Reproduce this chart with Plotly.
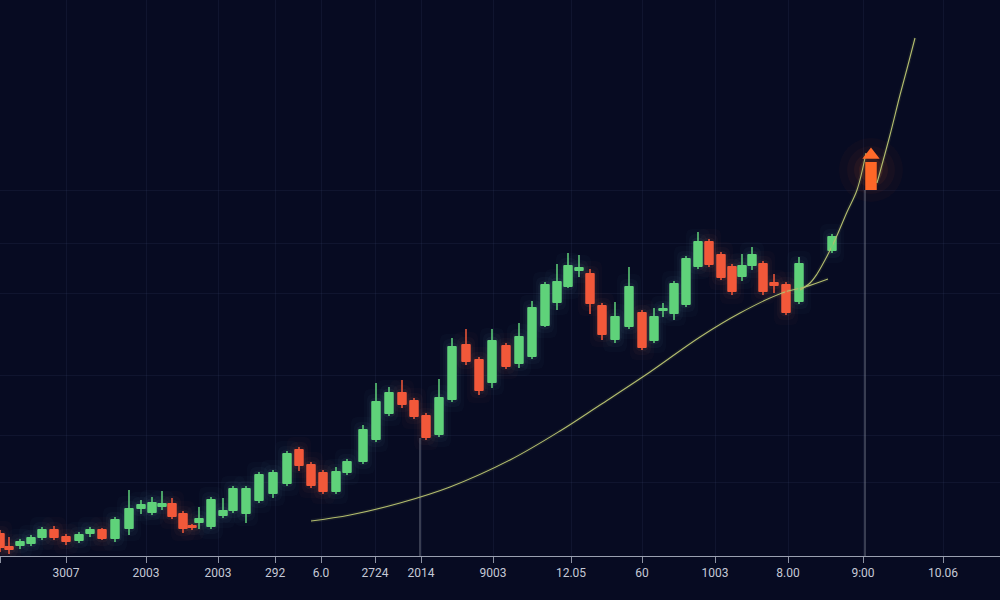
import plotly.graph_objects as go

# ---------------- data ----------------
candle_x = [0.0, 0.9, 2.0, 3.1, 4.2, 5.4, 6.6, 7.9, 9.0, 10.2, 11.5, 12.9, 14.1, 15.2, 16.2,
            17.2, 18.3, 19.2, 19.9, 21.1, 22.3, 23.3, 24.6, 25.9, 27.3, 28.7, 29.9, 31.1, 32.3,
            33.6, 34.7, 36.3, 37.6, 38.9, 40.2, 41.4, 42.6, 43.9, 45.2, 46.6, 47.9, 49.2, 50.6,
            51.9, 53.2, 54.5, 55.7, 56.8, 57.9, 59.0, 60.2, 61.5, 62.9, 64.2, 65.4, 66.3, 67.4,
            68.6, 69.8, 70.9, 72.1, 73.2, 74.2, 75.2, 76.3, 77.4, 78.6, 79.9, 83.2]
open_ = [2.3, 1.0, 1.0, 1.2, 1.8, 2.7, 2.0, 1.5, 2.2, 2.7, 1.7, 2.7, 4.7, 4.3, 4.9,
         5.3, 4.3, 3.0, 3.3, 2.9, 4.0, 4.5, 4.2, 5.5, 6.2, 7.2, 10.7, 9.2, 8.4,
         6.4, 8.3, 9.4, 11.6, 14.2, 16.4, 15.6, 14.1, 12.1, 15.6, 21.2, 19.7, 17.3, 21.1,
         19.2, 19.9, 23.0, 25.3, 26.9, 28.5, 28.3, 25.1, 21.6, 22.9, 24.4, 21.5, 24.5, 24.2,
         25.1, 28.9, 31.5, 30.2, 29.0, 27.9, 29.0, 29.3, 27.4, 27.2, 25.4, 30.5]
high = [2.6, 1.9, 1.7, 2.1, 2.9, 3.0, 2.2, 2.4, 2.9, 2.8, 3.9, 6.6, 5.6, 5.9, 6.5,
        5.8, 4.5, 3.2, 4.9, 5.9, 5.8, 7.0, 7.0, 8.4, 8.6, 10.5, 10.9, 9.4, 8.6,
        8.9, 9.7, 13.1, 17.3, 16.9, 17.6, 15.8, 14.3, 17.7, 21.8, 22.7, 19.9, 22.7, 21.3,
        23.3, 25.5, 27.4, 29.2, 30.3, 30.1, 28.7, 25.3, 25.4, 28.9, 24.6, 24.8, 25.3, 27.5,
        30.0, 32.4, 31.7, 30.4, 29.2, 30.2, 30.9, 29.5, 28.2, 27.4, 29.9, 32.2]
low = [0.4, 0.2, 0.7, 1.0, 1.6, 1.6, 1.1, 1.3, 1.9, 1.6, 1.4, 2.1, 4.2, 4.1, 4.6,
       3.7, 2.3, 2.6, 2.7, 2.7, 3.8, 4.3, 3.3, 5.3, 5.8, 7.0, 8.5, 6.8, 6.2,
       6.2, 8.1, 9.2, 11.4, 14.0, 14.8, 13.7, 11.6, 11.9, 15.4, 19.1, 16.1, 16.8, 18.7,
       18.8, 19.7, 22.9, 24.6, 26.8, 27.9, 24.2, 21.6, 21.3, 22.7, 20.6, 21.3, 23.9, 23.6,
       24.9, 28.7, 28.9, 27.6, 26.1, 27.5, 28.6, 26.1, 26.3, 24.1, 25.2, 30.3]
close = [0.8, 0.6, 1.5, 1.9, 2.7, 1.8, 1.4, 2.2, 2.7, 1.7, 3.7, 4.8, 5.2, 5.4, 5.3,
         3.9, 2.7, 2.8, 3.8, 5.7, 4.6, 6.8, 6.8, 8.2, 8.4, 10.3, 9.0, 7.0, 6.4,
         8.5, 9.5, 12.7, 15.5, 16.4, 15.1, 13.9, 11.8, 15.9, 21.0, 19.4, 16.5, 21.6, 18.9,
         22.0, 24.9, 27.2, 27.5, 29.1, 28.9, 25.2, 22.1, 24.0, 27.0, 20.8, 24.0, 24.8, 27.3,
         29.8, 31.5, 29.1, 27.8, 26.4, 29.1, 30.2, 26.4, 27.0, 24.3, 29.3, 32.0]

# breakout candle (drawn as an arrow)
arrow_x = [87.1]
arrow_open = [36.6]
arrow_close = [39.4]
arrow_tip = [40.1]

# trend line (three segments)
trend_x = [31.1, 35.0, 40.0, 45.0, 51.0, 56.0, 60.0, 65.0, 70.0, 74.0, 78.2, 80.5, 82.8, None,
           80.0, 81.0, 81.7, 82.5, 83.5, 84.7, 85.7, 86.6, None,
           87.7, 89.0, 90.0, 90.8, 91.5]
trend_y = [3.5, 4.1, 5.3, 6.9, 9.6, 12.5, 15.1, 18.4, 21.9, 24.3, 26.3, 26.9, 27.7, None,
           26.6, 27.3, 28.2, 29.6, 31.6, 34.4, 36.6, 40.3, None,
           37.3, 42.1, 46.1, 49.1, 51.8]

# vertical marker lines
marker_x = [42.0, 86.5]
marker_top = [11.8, 36.6]

# axis ticks
tick_vals = [0.0, 6.6, 14.6, 21.8, 27.5, 32.1, 37.5, 42.1, 49.3, 57.1, 64.2, 71.5, 78.8, 86.3, 94.3]
tick_text = ["0", "3007", "2003", "2003", "292", "6.0", "2724", "2014", "9003", "12.05",
             "60", "1003", "8.00", "9:00", "10.06"]
grid_y = [7.4, 12.1, 18.1, 26.3, 31.3, 36.6]

# ---------------- styles ----------------
GREEN = "#5fd27a"
RED = "#f2583a"
ORANGE = "#ff6a2a"
GREEN_GLOW = "rgb(140,210,220)"
RED_GLOW = "rgb(255,130,100)"
BG = "#070b22"

fig = go.Figure()

up = [i for i in range(len(candle_x)) if close[i] >= open_[i]]
dn = [i for i in range(len(candle_x)) if close[i] < open_[i]]

# soft glow layers behind the candles
for idx, gcol in ((up, GREEN_GLOW), (dn, RED_GLOW)):
    for w, op, pad in ((2.4, 0.025, 1.2), (1.8, 0.035, 0.7), (1.35, 0.05, 0.35)):
        fig.add_trace(go.Bar(
            x=[candle_x[i] for i in idx],
            base=[min(open_[i], close[i]) - pad for i in idx],
            y=[abs(close[i] - open_[i]) + 2 * pad for i in idx],
            width=w, marker=dict(color=gcol, opacity=op, line_width=0, cornerradius=6),
            hoverinfo="skip"))

# arrow glow
for s, a in ((64, 0.03), (48, 0.04), (34, 0.06), (24, 0.08)):
    fig.add_trace(go.Scatter(x=arrow_x, y=[38.6], mode="markers",
                             marker=dict(size=s, color=f"rgba(255,110,40,{a})", line_width=0),
                             hoverinfo="skip"))

# vertical marker lines
vx, vy = [], []
for xx, tt in zip(marker_x, marker_top):
    vx += [xx, xx, None]
    vy += [0, tt, None]
fig.add_trace(go.Scatter(x=vx, y=vy, mode="lines",
                         line=dict(color="rgba(150,155,170,0.7)", width=1), hoverinfo="skip"))

# trend line glow + line
fig.add_trace(go.Scatter(x=trend_x, y=trend_y, mode="lines", line_shape="spline",
                         line=dict(color="rgba(190,205,110,0.08)", width=4), hoverinfo="skip"))
fig.add_trace(go.Scatter(x=trend_x, y=trend_y, mode="lines", line_shape="spline",
                         line=dict(color="#b3bd6e", width=1.1), hoverinfo="skip"))

# wicks and bodies
for idx, col in ((up, GREEN), (dn, RED)):
    wx, wy = [], []
    for i in idx:
        wx += [candle_x[i], candle_x[i], None]
        wy += [low[i], high[i], None]
    fig.add_trace(go.Scatter(x=wx, y=wy, mode="lines", line=dict(color=col, width=1.5),
                             hoverinfo="skip"))
    fig.add_trace(go.Bar(
        x=[candle_x[i] for i in idx],
        base=[min(open_[i], close[i]) for i in idx],
        y=[max(abs(close[i] - open_[i]), 0.3) for i in idx],
        width=0.95, marker=dict(color=col, line_width=0, cornerradius=1.5),
        hoverinfo="skip"))

# arrow
fig.add_trace(go.Bar(x=arrow_x, base=arrow_open,
                     y=[c - o for o, c in zip(arrow_open, arrow_close)],
                     width=1.15, marker=dict(color=ORANGE, line_width=0), hoverinfo="skip"))
fig.add_trace(go.Scatter(x=arrow_x, y=arrow_tip, mode="markers",
                         marker=dict(symbol="triangle-up", size=15, color=ORANGE,
                                     line_width=0), hoverinfo="skip"))

fig.update_layout(
    template="none",
    width=1000, height=600,
    margin=dict(l=0, r=0, t=0, b=44, pad=0),
    paper_bgcolor=BG, plot_bgcolor=BG,
    barmode="overlay", showlegend=False, hovermode=False,
    font=dict(family="Roboto, 'Open Sans', sans-serif", color="#c5c9d6", size=12),
    xaxis=dict(range=[0, 100], tickvals=tick_vals, ticktext=tick_text,
               ticks="outside", ticklen=6, tickcolor="#8d92a2", tickwidth=1,
               showline=True, linecolor="#9aa0b0", linewidth=1,
               showgrid=True, gridcolor="rgba(70,82,125,0.14)", gridwidth=1,
               zeroline=False, automargin=False, fixedrange=True,
               tickfont=dict(size=12, color="#c5c9d6")),
    yaxis=dict(range=[0, 55.6], tickvals=grid_y, showticklabels=False,
               showgrid=True, gridcolor="rgba(70,82,125,0.14)", gridwidth=1,
               zeroline=False, showline=False, automargin=False, fixedrange=True),
)

fig.write_html("out.html", config={"displayModeBar": False},
               post_script="document.body.style.margin='0';")
